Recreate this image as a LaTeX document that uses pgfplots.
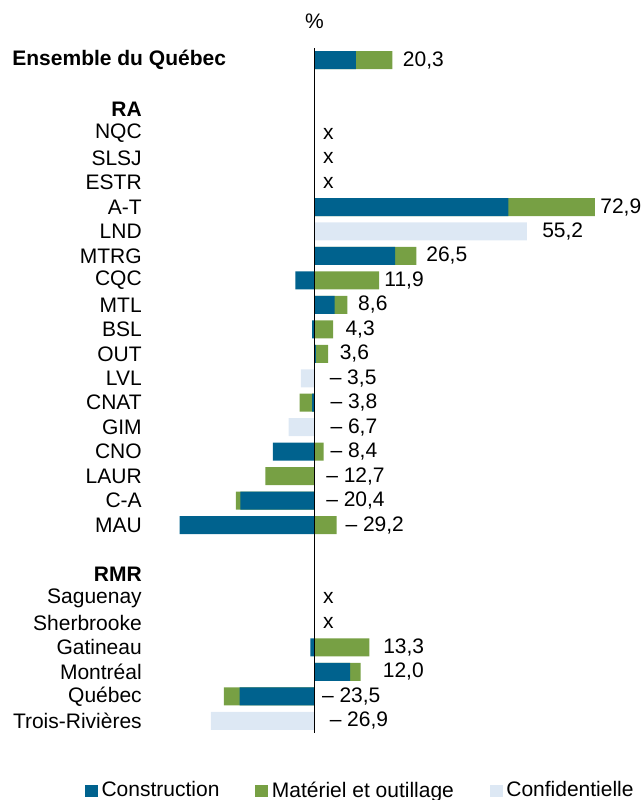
\documentclass[border=0pt]{standalone}
\usepackage{fontspec}
\setmainfont{Liberation Sans}
\usepackage{pgfplots}
\pgfplotsset{compat=1.18}
\definecolor{cbleu}{RGB}{0,98,142}
\definecolor{cvert}{RGB}{119,160,68}
\definecolor{cconf}{RGB}{221,232,244}
\newcommand{\cf}{\fontsize{10.5}{12.6}\selectfont}

\begin{document}
\begin{tikzpicture}[font=\cf]
\begin{axis}[
    scale only axis,
    width=224.25pt, height=342.5pt,
    xmin=-43, xmax=73.5,
    ymin=-0.5, ymax=27.5,
    y dir=reverse,
    clip=false,
    axis line style={draw=none},
    tick style={draw=none},
    xtick=\empty,
    ytick={2,3,4,5,6,7,8,9,10,11,12,13,14,15,16,17,18,19,21,22,23,24,25,26,27},
    yticklabels={\textbf{RA},NQC,SLSJ,ESTR,A-T,LND,MTRG,CQC,MTL,BSL,OUT,LVL,CNAT,GIM,CNO,LAUR,C-A,MAU,
                 \textbf{RMR},Saguenay,Sherbrooke,Gatineau,Montréal,Québec,Trois-Rivières},
    yticklabel style={font=\cf},
    legend columns=3,
    legend style={draw=none, font=\cf, at={(0.474,-0.0845)}, anchor=center,
                  /tikz/every even column/.append style={column sep=16pt}},
    legend image code/.code={\fill[#1] (0pt,-2.9pt) rectangle (5.8pt,2.9pt);},
]
\addlegendimage{cbleu}\addlegendentry{Construction}
\addlegendimage{cvert}\addlegendentry{Matériel et outillage}
\addlegendimage{cconf}\addlegendentry{Confidentielle}

% vert : bout de la barre (cumulé quand même signe que construction)
\addplot[xbar, bar width=9pt, bar shift=0pt, fill=cvert, draw=none, forget plot] coordinates {
    (20.3,0) (72.9,6) (26.5,8) (16.8,9) (8.6,10) (4.9,11) (3.6,12) (-3.8,14)
    (2.4,16) (-12.7,17) (-20.4,18) (5.8,19) (14.3,24) (12.0,25) (-23.5,26)
};
\addplot[xbar, bar width=9pt, bar shift=0pt, fill=cbleu, draw=none, forget plot] coordinates {
    (10.8,0) (50.4,6) (21.0,8) (-4.9,9) (5.3,10) (-0.6,11) (0.4,12) (-0.6,14)
    (-10.8,16) (-19.2,18) (-35.0,19) (-1.0,24) (9.3,25) (-19.4,26)
};
\addplot[xbar, bar width=9pt, bar shift=0pt, fill=cconf, draw=none, forget plot] coordinates {
    (55.2,7) (-3.5,13) (-6.7,15) (-26.9,27)
};

% étiquettes de valeur
\addplot[draw=none, forget plot, nodes near coords, point meta=explicit symbolic,
    nodes near coords style={anchor=west, inner sep=0pt, font=\cf}]
    table[meta=lab, row sep=\\] {
    x y lab\\
    22.9 0 20,3\\
    2.2 3 x\\
    2.2 4 x\\
    2.2 5 x\\
    74.2 6 72,9\\
    59.1 7 55,2\\
    29.0 8 26,5\\
    18.1 9 11,9\\
    11.3 10 8,6\\
    8.0 11 4,3\\
    6.5 12 3,6\\
    3.9 13 –~3,5\\
    4.1 14 –~3,8\\
    4.1 15 –~6,7\\
    4.1 16 –~8,4\\
    3.0 17 –~12,7\\
    3.0 18 –~20,4\\
    8.0 19 –~29,2\\
    2.2 22 x\\
    2.2 23 x\\
    17.8 24 13,3\\
    17.7 25 12,0\\
    1.9 26 –~23,5\\
    3.9 27 –~26,9\\
};

\draw[line width=0.6pt] (axis cs:0,-0.5) -- (axis cs:0,27.5);
\node[yshift=13.5pt] at (axis cs:0,-0.5) {\%};
\node[anchor=west, inner sep=0pt, font=\cf\bfseries] at ([xshift=-68.4pt]axis cs:-43,0) {Ensemble du Québec};
\coordinate (tl) at (axis cs:-43,-0.5);
\end{axis}
\pgfresetboundingbox
\path[use as bounding box] ([shift={(-74.4pt,24pt)}]tl) rectangle ([shift={(247.1pt,-376pt)}]tl);
\end{tikzpicture}
\end{document}
